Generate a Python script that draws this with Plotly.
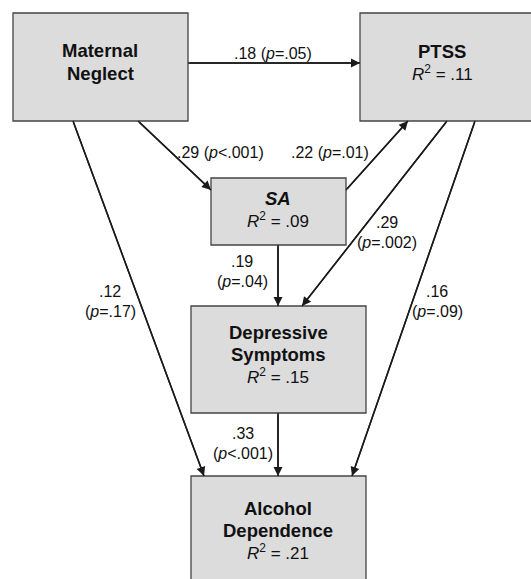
import plotly.graph_objects as go

# ---- data ----
node_names = ["Maternal Neglect", "PTSS", "SA", "Depressive Symptoms", "Alcohol Dependence"]
node_r2 = [None, 0.11, 0.09, 0.15, 0.21]
path_from = ["Maternal Neglect", "Maternal Neglect", "SA", "PTSS", "PTSS", "Maternal Neglect", "SA", "Depressive Symptoms"]
path_to = ["PTSS", "SA", "PTSS", "Depressive Symptoms", "Alcohol Dependence", "Alcohol Dependence", "Depressive Symptoms", "Alcohol Dependence"]
path_coef = [0.18, 0.29, 0.22, 0.29, 0.16, 0.12, 0.19, 0.33]
path_p = ["=.05", "<.001", "=.01", "=.002", "=.09", "=.17", "=.04", "<.001"]

# ---- layout (pixel positions) ----
W, H = 531, 579
boxes = {
    "Maternal Neglect": (13, 13, 188, 121),
    "PTSS": (360, 13, 545, 121),
    "SA": (211, 178, 346, 245),
    "Depressive Symptoms": (191, 306, 366, 413),
    "Alcohol Dependence": (191, 476, 366, 595),
}
# text line centers (x, [y for each line])
node_text_pos = {
    "Maternal Neglect": (100, [50, 73.5]),
    "PTSS": (442, [51.5, 72.5]),
    "SA": (278, [198.5, 220]),
    "Depressive Symptoms": (278, [332, 354.5, 376]),
    "Alcohol Dependence": (278, [508, 530.5, 552]),
}
arrow_geom = [
    ((188, 63), (360, 63)),
    ((138, 121), (211, 190)),
    ((346, 190), (408, 121)),
    ((447, 121), (302, 306)),
    ((475, 121), (352, 476)),
    ((73, 121), (204, 476)),
    ((278, 245), (278, 306)),
    ((278, 413), (278, 476)),
]
# label: (x, y_line1, y_line2 or None for single-line)
label_pos = [
    (273, 53, None),
    (220, 152, None),
    (330, 152, None),
    (387, 222, 242),
    (437, 291, 311),
    (110, 291, 311),
    (242, 261, 281),
    (243, 433, 453),
]

FONT = "Liberation Sans, Arial, sans-serif"
LINE_COLOR = "#1a1a1a"
fig = go.Figure()
fig.add_trace(go.Scatter(x=[0], y=[0], mode="markers", marker=dict(opacity=0), hoverinfo="skip", showlegend=False))

shapes = []
for name in node_names:
    x0, y0, x1, y1 = boxes[name]
    shapes.append(dict(type="rect", xref="x", yref="y", x0=x0, y0=y0, x1=x1, y1=y1,
                       fillcolor="#dcdcdc", line=dict(color="#444444", width=1.3), layer="below"))
for (tail, head) in arrow_geom:
    shapes.append(dict(type="line", xref="x", yref="y", x0=tail[0], y0=tail[1], x1=head[0], y1=head[1],
                       line=dict(color=LINE_COLOR, width=1.5)))

ann = []
for name, r2 in zip(node_names, node_r2):
    cx, ys = node_text_pos[name]
    words = name.split(" ")
    for i, w in enumerate(words):
        txt = f"<b><i>{w}</i></b>" if name == "SA" else f"<b>{w}</b>"
        ann.append(dict(x=cx, y=ys[i], xref="x", yref="y", text=txt, showarrow=False,
                        font=dict(family=FONT, size=18.5, color="#111"), xanchor="center", yanchor="middle"))
    if r2 is not None:
        ann.append(dict(x=cx, y=ys[len(words)], xref="x", yref="y",
                        text=f"<i>R</i><sup>2</sup> = .{int(round(r2*100)):02d}", showarrow=False,
                        font=dict(family=FONT, size=17, color="#111"), xanchor="center", yanchor="middle"))

for (tail, head) in arrow_geom:
    ann.append(dict(x=head[0], y=head[1], ax=tail[0], ay=tail[1], xref="x", yref="y",
                    axref="x", ayref="y", text="", showarrow=True, arrowhead=2, arrowsize=1.2,
                    arrowwidth=1.5, arrowcolor=LINE_COLOR, standoff=0, startstandoff=0))

for coef, p, (lx, ly1, ly2) in zip(path_coef, path_p, label_pos):
    c = f".{int(round(coef*100)):02d}"
    pt = f"(<i>p</i>{p})"
    if ly2 is None:
        ann.append(dict(x=lx, y=ly1, xref="x", yref="y", text=f"{c} {pt}", showarrow=False,
                        font=dict(family=FONT, size=16, color="#111"), xanchor="center", yanchor="middle"))
    else:
        ann.append(dict(x=lx, y=ly1, xref="x", yref="y", text=c, showarrow=False,
                        font=dict(family=FONT, size=16, color="#111"), xanchor="center", yanchor="middle"))
        ann.append(dict(x=lx, y=ly2, xref="x", yref="y", text=pt, showarrow=False,
                        font=dict(family=FONT, size=16, color="#111"), xanchor="center", yanchor="middle"))

fig.update_layout(
    width=W, height=H, margin=dict(l=0, r=0, t=0, b=0),
    paper_bgcolor="white", plot_bgcolor="white",
    xaxis=dict(range=[0, W], visible=False, fixedrange=True),
    yaxis=dict(range=[H, 0], visible=False, fixedrange=True),
    shapes=shapes, annotations=ann, showlegend=False,
)
fig.write_html("out.html", config={"displayModeBar": False},
               post_script="document.body.style.margin='0';document.body.style.overflow='hidden';")
